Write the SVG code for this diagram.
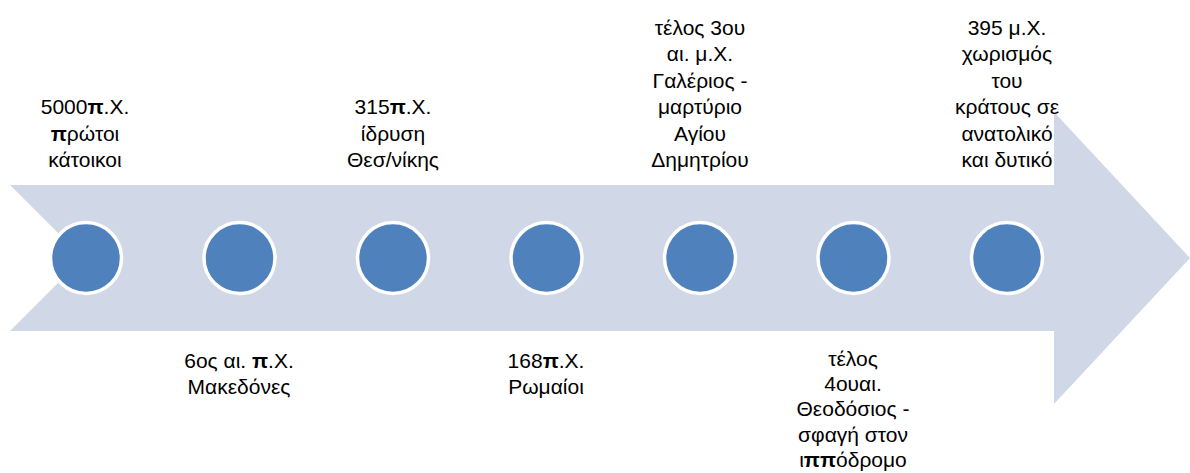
<svg xmlns="http://www.w3.org/2000/svg" width="1190" height="473" viewBox="0 0 1190 473">
  <style>
    .band { fill: #D0D8E8; }
    .dot { fill: #4F81BD; stroke: #FFFFFF; stroke-width: 3.5; }
    .lbl { font-family: "Liberation Sans", Arial, sans-serif; font-size: 21px; fill: #000000; text-anchor: middle; }
    .b { font-weight: bold; }
  </style>
  <rect width="1190" height="473" fill="#FFFFFF"/>

  <!-- timeline band: notched tail, wide arrowhead -->
  <g id="connectors">
    <polygon class="band" points="10,185 1054,185 1054,112 1190,258 1054,404 1054,331 10,331 83,258"/>
  </g>

  <g id="event-1">
    <circle class="dot" cx="86" cy="258" r="35.5"/>
    <text class="lbl" x="85" y="114">5000<tspan class="b">π</tspan>.Χ.</text>
    <text class="lbl" x="85" y="140.5"><tspan class="b">π</tspan>ρώτοι</text>
    <text class="lbl" x="85" y="167">κάτοικοι</text>
  </g>

  <g id="event-2">
    <circle class="dot" cx="239.5" cy="258" r="35.5"/>
    <text class="lbl" x="239" y="368">6ος αι. <tspan class="b">π</tspan>.Χ.</text>
    <text class="lbl" x="239" y="394">Μακεδόνες</text>
  </g>

  <g id="event-3">
    <circle class="dot" cx="393" cy="258" r="35.5"/>
    <text class="lbl" x="393" y="114">315<tspan class="b">π</tspan>.Χ.</text>
    <text class="lbl" x="393" y="140.5">ίδρυση</text>
    <text class="lbl" x="393" y="167">Θεσ/νίκης</text>
  </g>

  <g id="event-4">
    <circle class="dot" cx="546.5" cy="258" r="35.5"/>
    <text class="lbl" x="546" y="368">168<tspan class="b">π</tspan>.Χ.</text>
    <text class="lbl" x="546" y="394">Ρωμαίοι</text>
  </g>

  <g id="event-5">
    <circle class="dot" cx="700" cy="258" r="35.5"/>
    <text class="lbl" x="700" y="35">τέλος 3ου</text>
    <text class="lbl" x="700" y="61.4">αι. μ.Χ.</text>
    <text class="lbl" x="700" y="87.8">Γαλέριος -</text>
    <text class="lbl" x="700" y="114.2">μαρτύριο</text>
    <text class="lbl" x="700" y="140.6">Αγίου</text>
    <text class="lbl" x="700" y="167">Δημητρίου</text>
  </g>

  <g id="event-6">
    <circle class="dot" cx="853.5" cy="258" r="35.5"/>
    <text class="lbl" x="853" y="366">τέλος</text>
    <text class="lbl" x="853" y="391">4ουαι.</text>
    <text class="lbl" x="853" y="416">Θεοδόσιος -</text>
    <text class="lbl" x="853" y="441.5">σφαγή στον</text>
    <text class="lbl" x="853" y="466.5">ι<tspan class="b">ππ</tspan>όδρομο</text>
  </g>

  <g id="event-7">
    <circle class="dot" cx="1007" cy="258" r="35.5"/>
    <text class="lbl" x="1007" y="35">395 μ.Χ.</text>
    <text class="lbl" x="1007" y="61.4">χωρισμός</text>
    <text class="lbl" x="1007" y="87.8">του</text>
    <text class="lbl" x="1007" y="114.2">κράτους σε</text>
    <text class="lbl" x="1007" y="140.6">ανατολικό</text>
    <text class="lbl" x="1007" y="167">και δυτικό</text>
  </g>
</svg>
